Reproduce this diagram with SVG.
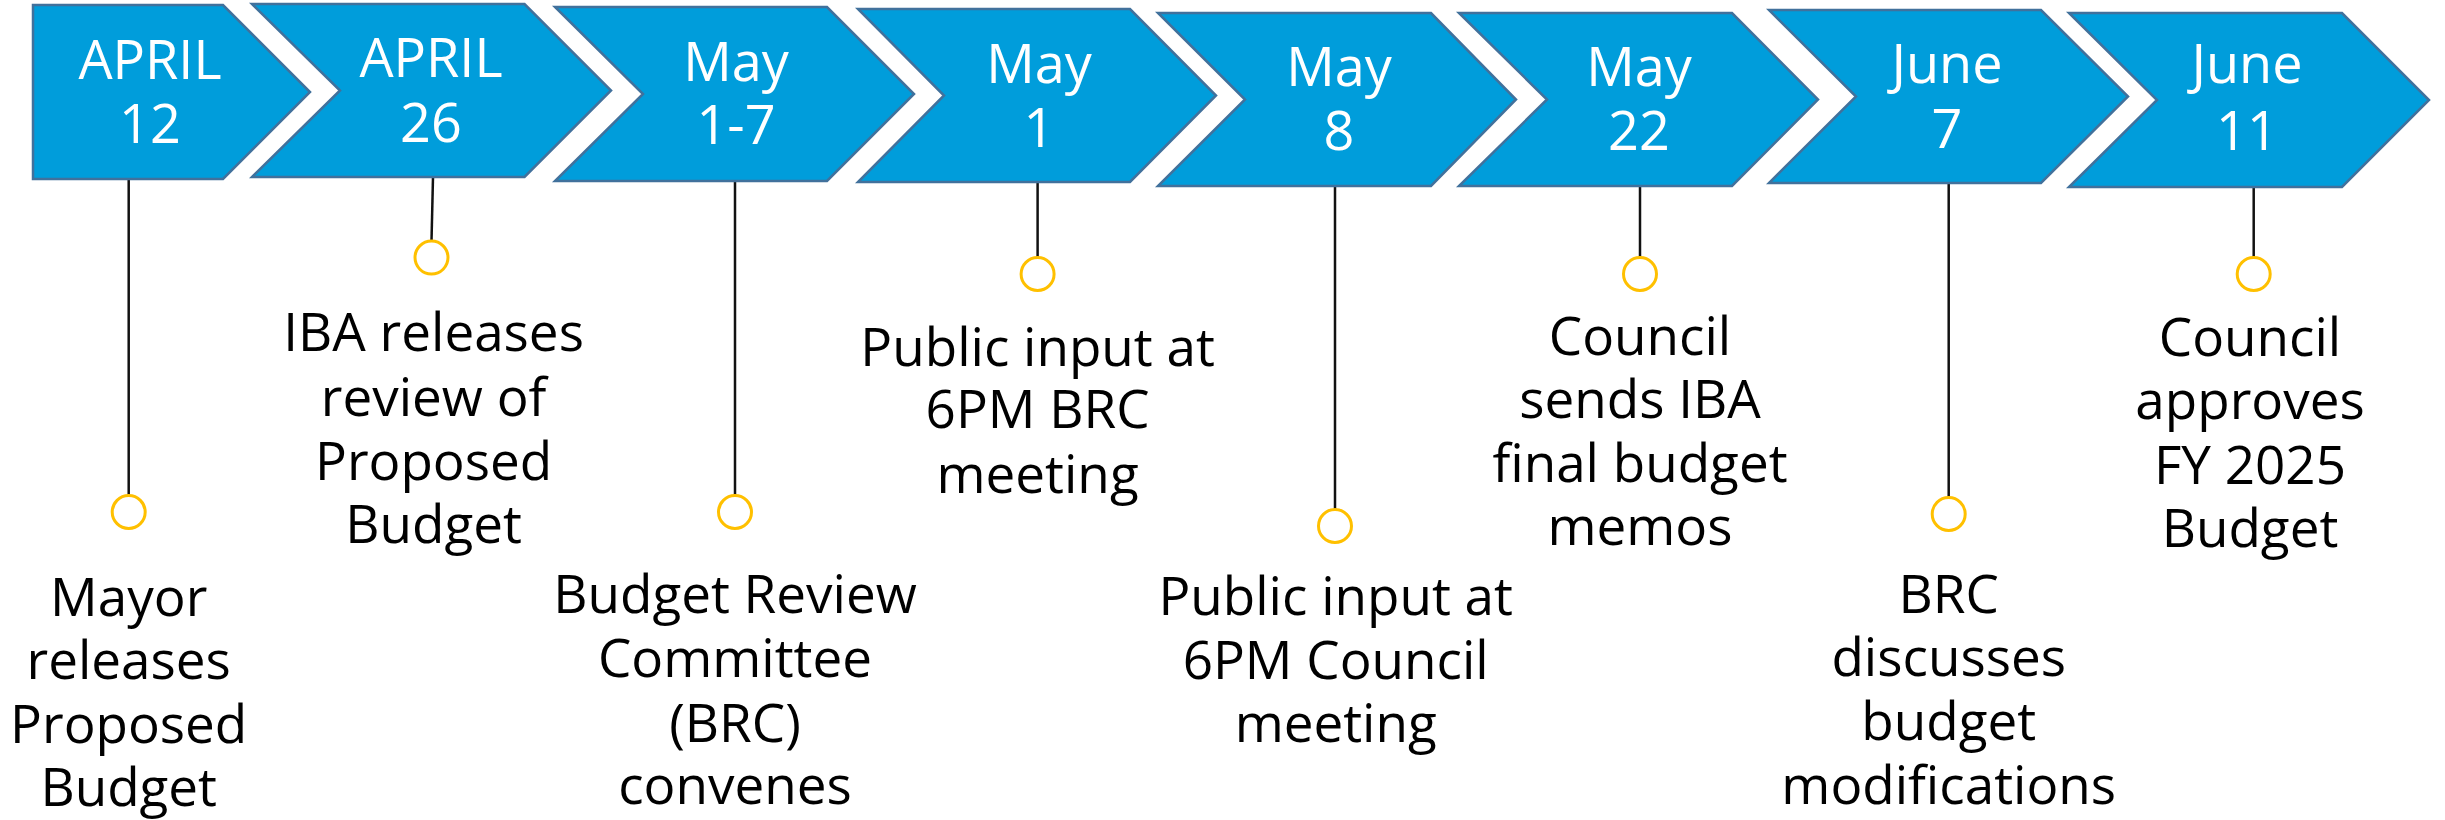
<svg xmlns="http://www.w3.org/2000/svg" width="2445" height="820" viewBox="0 0 2445 820">
<style>
.chev{fill:#009DDB;stroke:#41719C;stroke-width:2.5;stroke-linejoin:miter}
.date{font-family:"Open Sans","Noto Sans",sans-serif;font-size:54px;fill:#FFFFFF;text-anchor:middle}
.desc{font-family:"Open Sans","Noto Sans",sans-serif;font-size:53px;fill:#000000;text-anchor:middle}
.dot{fill:#FFFFFF;stroke:#FFC000;stroke-width:3}
.conn{stroke:#111111;stroke-width:2.5;fill:none}
</style>
<rect width="2445" height="820" fill="#FFFFFF"/>
<g id="connectors">
<line class="conn" x1="128.7" y1="179" x2="128.7" y2="495"/>
<line class="conn" x1="433" y1="177" x2="431.5" y2="241"/>
<line class="conn" x1="735" y1="181" x2="735" y2="495"/>
<line class="conn" x1="1037.6" y1="182" x2="1037.6" y2="257"/>
<line class="conn" x1="1335" y1="186" x2="1335" y2="509"/>
<line class="conn" x1="1640" y1="186" x2="1640" y2="257"/>
<line class="conn" x1="1948.7" y1="183" x2="1948.7" y2="497"/>
<line class="conn" x1="2253.7" y1="187" x2="2253.7" y2="257"/>
</g>
<g id="node-apr12">
<path class="chev" d="M33,5 L223,5 L310,92 L223,179 L33,179 Z"/>
<text class="date"><tspan x="150" y="79">APRIL</tspan><tspan x="150" y="143">12</tspan></text>
<circle class="dot" cx="128.7" cy="512" r="16.5"/>
<text class="desc"><tspan x="128.7" y="616">Mayor</tspan><tspan x="128.7" y="679">releases</tspan><tspan x="128.7" y="743">Proposed</tspan><tspan x="128.7" y="806">Budget</tspan></text>
</g>
<g id="node-apr26">
<path class="chev" d="M252,4 L524.5,4 L611,90.5 L524.5,177 L252,177 L340,90.5 Z"/>
<text class="date"><tspan x="431" y="77">APRIL</tspan><tspan x="431" y="142">26</tspan></text>
<circle class="dot" cx="431.5" cy="257.6" r="16.5"/>
<text class="desc"><tspan x="433.6" y="351">IBA releases</tspan><tspan x="433.6" y="416">review of</tspan><tspan x="433.6" y="480">Proposed</tspan><tspan x="433.6" y="543">Budget</tspan></text>
</g>
<g id="node-may1-7">
<path class="chev" d="M555,7 L827,7 L914,94 L827,181 L555,181 L643,94 Z"/>
<text class="date"><tspan x="736" y="81">May</tspan><tspan x="736" y="144">1-7</tspan></text>
<circle class="dot" cx="735" cy="512" r="16.5"/>
<text class="desc"><tspan x="735" y="613">Budget Review</tspan><tspan x="735" y="677">Committee</tspan><tspan x="735" y="742">(BRC)</tspan><tspan x="735" y="804">convenes</tspan></text>
</g>
<g id="node-may1">
<path class="chev" d="M858,9 L1130,9 L1216,95.5 L1130,182 L858,182 L944,95.5 Z"/>
<text class="date"><tspan x="1039" y="83">May</tspan><tspan x="1039" y="147">1</tspan></text>
<circle class="dot" cx="1037.6" cy="274" r="16.5"/>
<text class="desc"><tspan x="1037.6" y="366">Public input at</tspan><tspan x="1037.6" y="428">6PM BRC</tspan><tspan x="1037.6" y="493">meeting</tspan></text>
</g>
<g id="node-may8">
<path class="chev" d="M1158,13 L1431,13 L1516,99.5 L1431,186 L1158,186 L1245,99.5 Z"/>
<text class="date"><tspan x="1339" y="86">May</tspan><tspan x="1339" y="150">8</tspan></text>
<circle class="dot" cx="1335" cy="526" r="16.5"/>
<text class="desc"><tspan x="1335.7" y="615">Public input at</tspan><tspan x="1335.7" y="679">6PM Council</tspan><tspan x="1335.7" y="742">meeting</tspan></text>
</g>
<g id="node-may22">
<path class="chev" d="M1459,13 L1732,13 L1818,99.5 L1732,186 L1459,186 L1547,99.5 Z"/>
<text class="date"><tspan x="1639" y="86">May</tspan><tspan x="1639" y="150">22</tspan></text>
<circle class="dot" cx="1640" cy="274" r="16.5"/>
<text class="desc"><tspan x="1640" y="355">Council</tspan><tspan x="1640" y="418">sends IBA</tspan><tspan x="1640" y="482">final budget</tspan><tspan x="1640" y="545">memos</tspan></text>
</g>
<g id="node-jun7">
<path class="chev" d="M1769,10 L2041,10 L2128,96.5 L2041,183 L1769,183 L1856,96.5 Z"/>
<text class="date"><tspan x="1947" y="83">June</tspan><tspan x="1947" y="148">7</tspan></text>
<circle class="dot" cx="1948.7" cy="514" r="16.5"/>
<text class="desc"><tspan x="1948.7" y="613">BRC</tspan><tspan x="1948.7" y="676">discusses</tspan><tspan x="1948.7" y="740">budget</tspan><tspan x="1948.7" y="804">modifications</tspan></text>
</g>
<g id="node-jun11">
<path class="chev" d="M2069,13 L2342,13 L2429,100 L2342,187 L2069,187 L2157,100 Z"/>
<text class="date"><tspan x="2247" y="83">June</tspan><tspan x="2247" y="150">11</tspan></text>
<circle class="dot" cx="2253.7" cy="274" r="16.5"/>
<text class="desc"><tspan x="2250" y="356">Council</tspan><tspan x="2250" y="419">approves</tspan><tspan x="2250" y="484">FY 2025</tspan><tspan x="2250" y="547">Budget</tspan></text>
</g>
</svg>
